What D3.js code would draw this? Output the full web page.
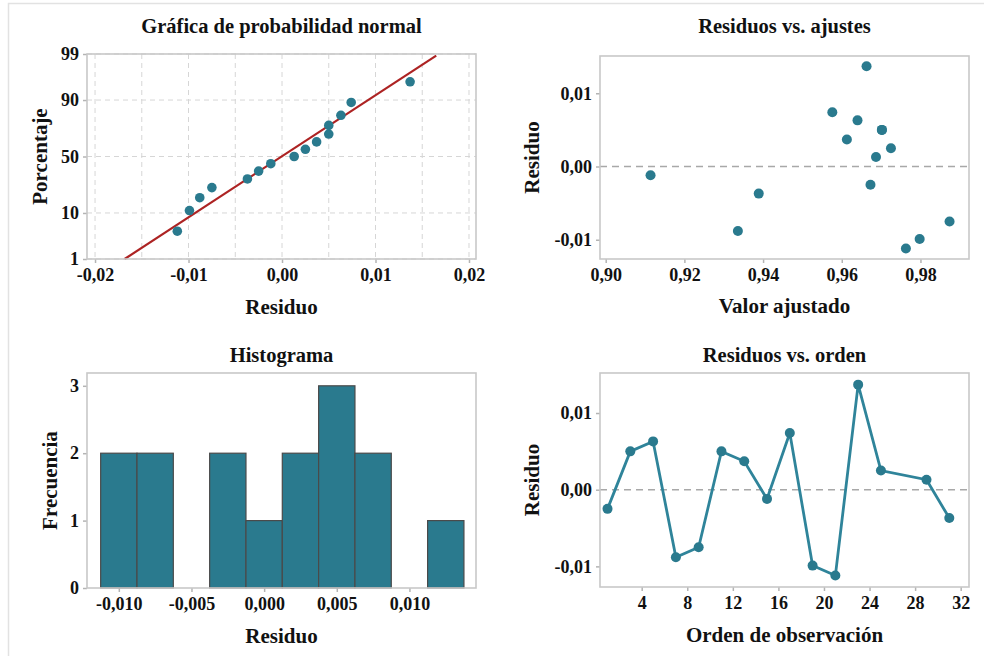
<!DOCTYPE html>
<meta charset="utf-8">
<script src="https://d3js.org/d3.v7.min.js"></script>
<style>
  body { margin: 0; background: #fff; }
</style>
<body>
  <div id="my_dataviz"></div>
  <script>

    // Residuals, in observation order
    var orden = [1, 3, 5, 7, 9, 11, 13, 15, 17, 19, 21, 23, 25, 29, 31];
    var residuos = [-0.0025, 0.0050, 0.0063, -0.0088, -0.0075, 0.0050, 0.0037, -0.0012, 0.0074, -0.0099, -0.0112, 0.0137, 0.0025, 0.0013, -0.0037];
    var ajustes = [0.9673, 0.9702, 0.9640, 0.9336, 0.9874, 0.9702, 0.9613, 0.9114, 0.9576, 0.9798, 0.9763, 0.9663, 0.9725, 0.9687, 0.9389];

    // Normal plot: plotting positions (%) of the sorted residuals, fitted line
    var porcentajes = [4.5, 11.0, 17.5, 24.0, 30.5, 37.0, 43.5, 50.0, 56.5, 63.0, 69.5, 76.0, 82.5, 89.0, 95.5];
    var lineaMedia = -0.00004;
    var lineaDesv = 0.00722;

    // Histogram bins
    var histCentros = [-0.0100, -0.0075, -0.0050, -0.0025, 0.0000, 0.0025, 0.0050, 0.0075, 0.0100, 0.0125];
    var histFrecuencias = [2, 2, 0, 2, 1, 2, 3, 2, 0, 1];
    var histAncho = 0.0025;

    // Tick values
    var ticksPct = [1, 10, 50, 90, 99];
    var ticksResNormal = [-0.02, -0.01, 0, 0.01, 0.02];
    var gridResNormal = [-0.02, -0.015, -0.01, -0.005, 0, 0.005, 0.01, 0.015, 0.02];
    var ticksAjuste = [0.90, 0.92, 0.94, 0.96, 0.98];
    var ticksRes = [-0.01, 0, 0.01];
    var ticksHistX = [-0.010, -0.005, 0, 0.005, 0.010];
    var ticksHistY = [0, 1, 2, 3];
    var ticksOrden = [4, 8, 12, 16, 20, 24, 28, 32];

    var teal = "#2a7a8e";
    var serif = "'Liberation Serif', 'Times New Roman', serif";
    var loc = d3.formatLocale({decimal: ",", thousands: ".", grouping: [3], currency: ["", ""], minus: "-"});

    // inverse normal cdf (Acklam)
    function probit(p) {
      var a = [-39.6968302866538, 220.946098424521, -275.928510446969, 138.357751867269, -30.6647980661472, 2.50662827745924];
      var b = [-54.4760987982241, 161.585836858041, -155.698979859887, 66.8013118877197, -13.2806815528857];
      var c = [-0.00778489400243029, -0.322396458041136, -2.40075827716184, -2.54973253934373, 4.37466414146497, 2.93816398269878];
      var d = [0.00778469570904146, 0.32246712907004, 2.445134137143, 3.75440866190742];
      var q, r;
      if (p < 0.02425) {
        q = Math.sqrt(-2 * Math.log(p));
        return (((((c[0]*q+c[1])*q+c[2])*q+c[3])*q+c[4])*q+c[5]) / ((((d[0]*q+d[1])*q+d[2])*q+d[3])*q+1);
      }
      if (p > 1 - 0.02425) return -probit(1 - p);
      q = p - 0.5; r = q * q;
      return (((((a[0]*r+a[1])*r+a[2])*r+a[3])*r+a[4])*r+a[5])*q / (((((b[0]*r+b[1])*r+b[2])*r+b[3])*r+b[4])*r+1);
    }

    var svg = d3.select("#my_dataviz")
      .append("svg")
        .attr("width", 984)
        .attr("height", 656)
        .attr("font-family", serif)
        .attr("font-weight", "bold");

    // faint outer border
    svg.append("path")
      .attr("d", "M8.5,656V3.5H984")
      .attr("fill", "none")
      .attr("stroke", "#e2e2e2")
      .attr("stroke-width", 1.5);

    function label(x, y, size, txt) {
      return svg.append("text")
        .attr("x", x).attr("y", y)
        .attr("text-anchor", "middle")
        .style("font-family", serif).style("font-weight", "bold").style("font-size", size + "px")
        .attr("fill", "#111")
        .text(txt);
    }

    // Build one panel: frame, titles, axes
    function panel(p) {
      var g = svg.append("g").attr("transform", "translate(" + p.x0 + "," + p.y0 + ")");
      var w = p.x1 - p.x0, h = p.y1 - p.y0;
      var x = p.x.range([0, w]);
      var y = p.y.range([h, 0]);

      label((p.x0 + p.x1) / 2, p.titleY, 20.5, p.title);
      label((p.x0 + p.x1) / 2, p.xlabY, 21, p.xlab);
      label(0, 0, 21, p.ylab)
        .attr("transform", "translate(" + p.ylabX + "," + ((p.y0 + p.y1) / 2) + ") rotate(-90)");

      var xa = g.append("g")
        .attr("transform", "translate(0," + h + ")")
        .call(d3.axisBottom(x).tickValues(p.xticks).tickFormat(p.xfmt).tickSize(4).tickPadding(5));
      var ya = g.append("g")
        .call(d3.axisLeft(y).tickValues(p.yticks).tickFormat(p.yfmt).tickSize(4).tickPadding(4));
      [xa, ya].forEach(function(a) {
        a.attr("font-family", serif).attr("font-size", 18).attr("font-weight", "bold");
        a.select(".domain").remove();
        a.selectAll(".tick line").attr("stroke", "#b4b4b4").attr("stroke-width", 1.5);
        a.selectAll(".tick text")
          .style("font-family", serif).style("font-weight", "bold").style("font-size", "18px")
          .attr("fill", "#111");
      });

      var marks = g.append("g");
      g.append("rect")
        .attr("width", w).attr("height", h)
        .attr("fill", "none").attr("stroke", "#c8c8c8").attr("stroke-width", 1.6);
      return {g: marks, x: x, y: y, w: w, h: h};
    }

    // --- Normal probability plot
    var sorted = residuos.slice().sort(d3.ascending);
    var p1 = panel({
      x0: 87, x1: 476, y0: 54, y1: 259,
      x: d3.scaleLinear().domain([-0.02086, 0.02075]),
      y: d3.scaleLinear().domain([probit(0.01), probit(0.99)]),
      xticks: ticksResNormal, xfmt: loc.format(".2f"),
      yticks: ticksPct.map(function(v) { return probit(v / 100); }),
      yfmt: function(d, i) { return ticksPct[i]; },
      title: "Gráfica de probabilidad normal", titleY: 33,
      xlab: "Residuo", xlabY: 314, ylab: "Porcentaje", ylabX: 47
    });
    p1.g.selectAll("line.vg").data(gridResNormal).enter().append("line")
      .attr("x1", function(d) { return p1.x(d); }).attr("x2", function(d) { return p1.x(d); })
      .attr("y1", 0).attr("y2", p1.h)
      .attr("stroke", "#d6d6d6").attr("stroke-dasharray", "5,4");
    p1.g.selectAll("line.hg").data(ticksPct).enter().append("line")
      .attr("x1", 0).attr("x2", p1.w)
      .attr("y1", function(d) { return p1.y(probit(d / 100)); })
      .attr("y2", function(d) { return p1.y(probit(d / 100)); })
      .attr("stroke", "#d6d6d6").attr("stroke-dasharray", "5,4");
    p1.g.append("line")
      .attr("x1", p1.x(lineaMedia + lineaDesv * probit(0.01))).attr("y1", p1.y(probit(0.01)))
      .attr("x2", p1.x(lineaMedia + lineaDesv * probit(0.989))).attr("y2", p1.y(probit(0.989)))
      .attr("stroke", "#ad2323").attr("stroke-width", 2.2);
    p1.g.selectAll("circle").data(sorted).enter().append("circle")
      .attr("cx", function(d) { return p1.x(d); })
      .attr("cy", function(d, i) { return p1.y(probit(porcentajes[i] / 100)); })
      .attr("r", 4.8).attr("fill", teal);

    // --- Residuals vs fits
    var p2 = panel({
      x0: 600, x1: 969, y0: 56, y1: 259,
      x: d3.scaleLinear().domain([0.89855, 0.99234]),
      y: d3.scaleLinear().domain([-0.01263, 0.01509]),
      xticks: ticksAjuste, xfmt: loc.format(".2f"),
      yticks: ticksRes, yfmt: loc.format(".2f"),
      title: "Residuos vs. ajustes", titleY: 33,
      xlab: "Valor ajustado", xlabY: 313, ylab: "Residuo", ylabX: 539
    });
    p2.g.append("line")
      .attr("x1", 0).attr("x2", p2.w).attr("y1", p2.y(0)).attr("y2", p2.y(0))
      .attr("stroke", "#a8a8a8").attr("stroke-width", 1.4).attr("stroke-dasharray", "7,5");
    p2.g.selectAll("circle").data(residuos).enter().append("circle")
      .attr("cx", function(d, i) { return p2.x(ajustes[i]); })
      .attr("cy", function(d) { return p2.y(d); })
      .attr("r", 5).attr("fill", teal);

    // --- Histogram
    var p3 = panel({
      x0: 87, x1: 476, y0: 373, y1: 588,
      x: d3.scaleLinear().domain([-0.01219, 0.01458]),
      y: d3.scaleLinear().domain([0, 3.19]),
      xticks: ticksHistX, xfmt: loc.format(".3f"),
      yticks: ticksHistY, yfmt: d3.format("d"),
      title: "Histograma", titleY: 362,
      xlab: "Residuo", xlabY: 643, ylab: "Frecuencia", ylabX: 57
    });
    p3.g.selectAll("rect").data(histFrecuencias).enter().append("rect")
      .attr("x", function(d, i) { return p3.x(histCentros[i] - histAncho / 2); })
      .attr("width", function(d, i) { return p3.x(histCentros[i] + histAncho / 2) - p3.x(histCentros[i] - histAncho / 2); })
      .attr("y", function(d) { return p3.y(d); })
      .attr("height", function(d) { return p3.h - p3.y(d); })
      .attr("fill", teal)
      .attr("stroke", function(d) { return d > 0 ? "#4a4a4a" : "none"; })
      .attr("stroke-width", 1.2);

    // --- Residuals vs order
    var p4 = panel({
      x0: 600, x1: 969, y0: 373, y1: 587,
      x: d3.scaleLinear().domain([0.34, 32.73]),
      y: d3.scaleLinear().domain([-0.01269, 0.01522]),
      xticks: ticksOrden, xfmt: d3.format("d"),
      yticks: ticksRes, yfmt: loc.format(".2f"),
      title: "Residuos vs. orden", titleY: 362,
      xlab: "Orden de observación", xlabY: 642, ylab: "Residuo", ylabX: 539
    });
    p4.g.append("line")
      .attr("x1", 0).attr("x2", p4.w).attr("y1", p4.y(0)).attr("y2", p4.y(0))
      .attr("stroke", "#a8a8a8").attr("stroke-width", 1.4).attr("stroke-dasharray", "7,5");
    p4.g.append("path")
      .datum(residuos)
      .attr("fill", "none")
      .attr("stroke", "#2f849a")
      .attr("stroke-width", 2.8)
      .attr("d", d3.line()
        .x(function(d, i) { return p4.x(orden[i]); })
        .y(function(d) { return p4.y(d); })
      );
    p4.g.selectAll("circle").data(residuos).enter().append("circle")
      .attr("cx", function(d, i) { return p4.x(orden[i]); })
      .attr("cy", function(d) { return p4.y(d); })
      .attr("r", 5).attr("fill", teal);

  </script>
</body>
